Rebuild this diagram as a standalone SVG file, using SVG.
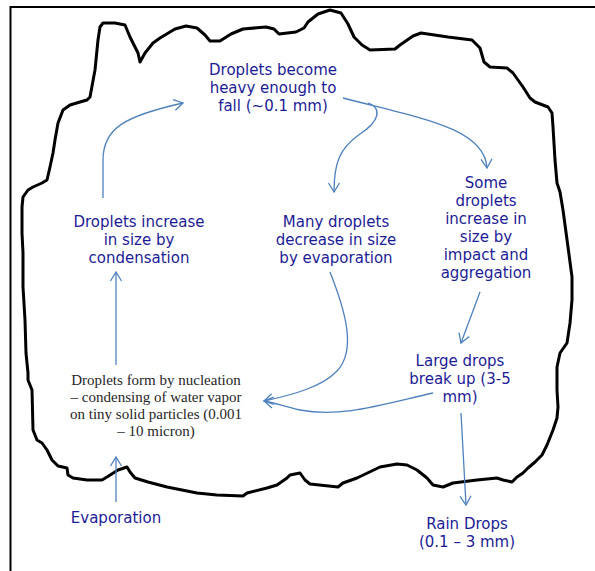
<svg xmlns="http://www.w3.org/2000/svg" width="595" height="571" viewBox="0 0 595 571">
<style>
.t{font-family:"DejaVu Sans",Verdana,sans-serif;font-size:15px;fill:#1c1c96;text-anchor:middle}
.s{font-family:"Liberation Serif","Times New Roman",serif;font-size:15px;fill:#262626;text-anchor:middle}
.a{fill:none;stroke:#4f81bd;stroke-width:1.3;marker-end:url(#h)}
</style>
<defs>
<marker id="h" markerUnits="userSpaceOnUse" markerWidth="14" markerHeight="14" viewBox="0 0 14 14" refX="12" refY="7" orient="auto">
<path d="M3,1.5 L12,7 L3,12.5" fill="none" stroke="#4f81bd" stroke-width="1.3"/>
</marker>
</defs>
<rect width="595" height="571" fill="#fff"/>
<path d="M10.5,571 V7 H595" fill="none" stroke="#000" stroke-width="2"/>
<g id="cloud">
<path fill="none" stroke="#000" stroke-width="3" stroke-linejoin="round" stroke-linecap="round" d="M28,373 L26,353 L25,320 L23,287 L23,253 L22,233 L22,207 L23,197 L28,190 L33,187 L42,183 L47,180 L50,167 L53,153 L55,140 L58,123 L63,110 L70,105 L80,102 L87,100 L90,97 L95,70 L98,40 L100,27 L103,23 L115,23 L125,25 L130,37 L135,47 L138,53 L140,62 L145,53 L153,43 L160,38 L175,29 L186,26 L197,28 L205,35 L210,41 L220,41 L231,34 L243,29 L266,27 L274,29 L279,34 L296,32 L304,28 L308,22 L318,14 L330,10 L341,13 L348,24 L354,37 L362,45 L370,50 L395,49 L400,45 L413,36 L421,33 L448,37 L472,40 L480,48 L484,62 L490,67 L507,68 L513,73 L523,87 L530,98 L535,102 L548,107 L552,113 L553,127 L555,160 L557,183 L560,192 L563,210 L568,247 L572,277 L572,300 L570,323 L567,343 L560,353 L557,367 L557,390 L558,407 L557,418 L553,430 L547,445 L542,455 L535,462 L528,468 L523,473 L517,477 L512,482 L503,480 L497,478 L477,480 L453,483 L443,487 L433,485 L427,478 L417,470 L407,465 L397,464 L380,467 L357,478 L343,483 L338,487 L310,484 L305,480 L300,473 L290,475 L287,478 L277,485 L267,488 L247,493 L243,496 L217,495 L197,493 L167,487 L148,482 L135,478 L130,472 L127,467 L118,470 L107,477 L102,480 L87,480 L73,478 L68,475 L67,468 L58,466 L52,460 L47,450 L42,443 L37,440 L33,430 L32,390 L28,380 Z"/>
</g>
<g id="connectors">
<path class="a" d="M103,198 L103,160 C103,128 125,116 183,103"/>
<path class="a" d="M116,365 L116,272"/>
<path class="a" d="M116,502 L116,457"/>
<path class="a" d="M343,98 C420,118 485,128 487,168"/>
<path class="a" d="M368,103 C382,108 380,121 360,134 C340,148 334,162 334,192"/>
<path class="a" d="M480,292 L461,343"/>
<path class="a" d="M330,272 C345,310 357,350 337,371 C322,387 292,395 264,401"/>
<path class="a" d="M433,393 C380,405 340,418 300,410 C285,407 276,403 264,401"/>
<path class="a" d="M461,413 L466,505"/>
</g>
<g id="n-top"><text class="t" x="273" y="75">Droplets become</text><text class="t" x="273" y="93">heavy enough to</text><text class="t" x="273" y="111">fall (~0.1 mm)</text></g>
<g id="n-cond"><text class="t" x="139" y="227">Droplets increase</text><text class="t" x="139" y="245">in size by</text><text class="t" x="139" y="263">condensation</text></g>
<g id="n-evap"><text class="t" x="336" y="227">Many droplets</text><text class="t" x="336" y="245">decrease in size</text><text class="t" x="336" y="263">by evaporation</text></g>
<g id="n-agg"><text class="t" x="486" y="188">Some</text><text class="t" x="486" y="206">droplets</text><text class="t" x="486" y="224">increase in</text><text class="t" x="486" y="242">size by</text><text class="t" x="486" y="260">impact and</text><text class="t" x="486" y="278">aggregation</text></g>
<g id="n-large"><text class="t" x="460" y="366">Large drops</text><text class="t" x="460" y="384">break up (3-5</text><text class="t" x="460" y="402">mm)</text></g>
<g id="n-nuc"><text class="s" x="156" y="385">Droplets form by nucleation</text><text class="s" x="156" y="402">– condensing of water vapor</text><text class="s" x="156" y="419">on tiny solid particles (0.001</text><text class="s" x="156" y="436">– 10 micron)</text></g>
<g id="n-evaporation"><text class="t" x="116" y="523">Evaporation</text></g>
<g id="n-rain"><text class="t" x="467" y="529">Rain Drops</text><text class="t" x="467" y="547">(0.1 – 3 mm)</text></g>
</svg>
